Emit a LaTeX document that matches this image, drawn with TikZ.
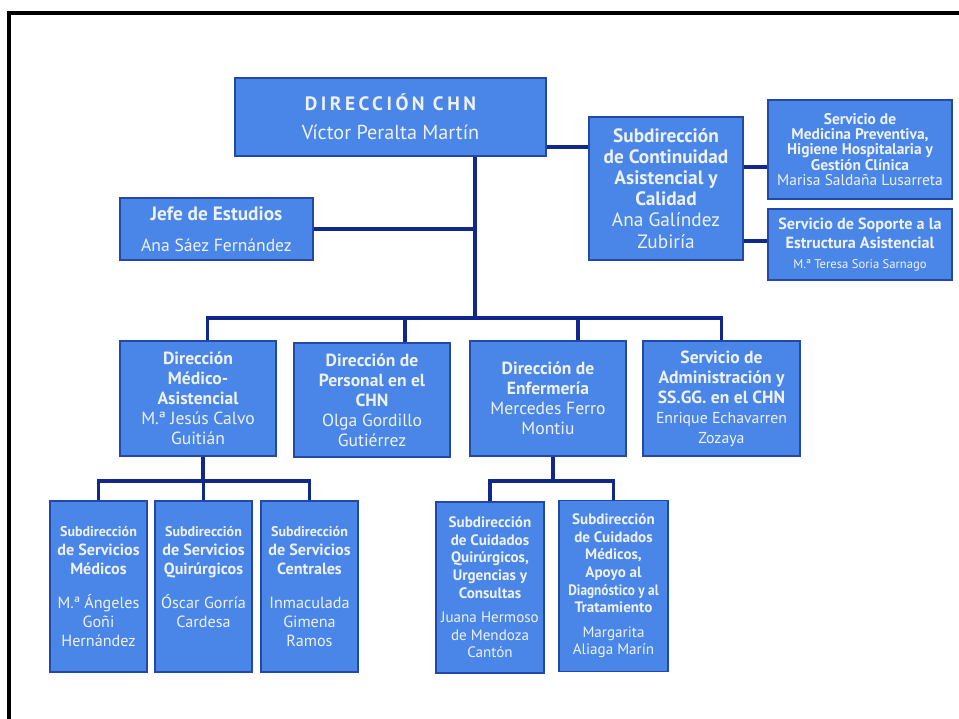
\documentclass[tikz,border=0pt]{standalone}
\usepackage{fontspec}
\setmainfont{PT Sans}
\usetikzlibrary{calc}
\definecolor{boxblue}{HTML}{4A86E8}
\definecolor{edgeblue}{HTML}{2348A8}
\definecolor{linknavy}{HTML}{10288C}
\definecolor{boxtext}{HTML}{EEF2F8}

\begin{document}
\begin{tikzpicture}[x=0.02cm,y=-0.02cm,
  unit/.style={rectangle,draw=edgeblue,fill=boxblue,line width=1.1pt,text=boxtext,align=center,inner sep=1pt,font=\bfseries\fontsize{10}{11.4}\selectfont},
  side/.style={unit,font=\bfseries\fontsize{8.8}{8.6}\selectfont},
  low/.style={unit,font=\bfseries\fontsize{9.2}{10.8}\selectfont,minimum width=1.94cm,minimum height=3.42cm},
  care/.style={unit,font=\bfseries\fontsize{8.6}{10}\selectfont,minimum height=3.42cm},
  link/.style={draw=linknavy,line width=2.2pt}
]
\useasboundingbox (0,0) rectangle (959,719);
\draw[line width=2pt] (9,730) -- (9,13) -- (970,13);

\node[unit,font=\bfseries\fontsize{11}{12.6}\selectfont,minimum width=6.22cm,minimum height=1.56cm] (dir) at (390.5,117) {{\addfontfeature{LetterSpace=18}DIRECCIÓN CHN}\\[4pt] \mdseries\fontsize{11.5}{12.6}\selectfont Víctor Peralta Martín};
\node[unit,font=\bfseries\fontsize{11}{12}\selectfont,minimum width=3.08cm,minimum height=2.86cm] (sub) at (666,188.5) {Subdirección\\ de Continuidad\\ Asistencial y\\ Calidad\\ \mdseries Ana Galíndez\\ \mdseries Zubiría};
\node[side,minimum width=3.68cm,minimum height=1.98cm] (prev) at (860,149.5) {Servicio de\\ Medicina Preventiva,\\ Higiene Hospitalaria y\\ Gestión Clínica\\ \mdseries Marisa Saldaña Lusarreta};
\node[side,font=\bfseries\fontsize{9.2}{11}\selectfont,minimum width=3.68cm,minimum height=1.42cm] (sop) at (860,244.5) {Servicio de Soporte a la\\ Estructura Asistencial\\ \mdseries\fontsize{7.2}{9}\selectfont M.ª Teresa Soria Sarnago};
\node[unit,minimum width=3.86cm,minimum height=1.24cm] (jefe) at (216.5,229) {{\fontsize{11}{11.4}\selectfont Jefe de Estudios}\\[6pt] \mdseries Ana Sáez Fernández};

\node[unit,minimum width=3.12cm,minimum height=2.30cm] (med) at (198,398.5) {Dirección\\ Médico-\\ Asistencial\\ \mdseries M.ª Jesús Calvo\\ \mdseries Guitián};
\node[unit,minimum width=3.12cm,minimum height=2.28cm] (pers) at (372,400) {Dirección de\\ Personal en el\\ CHN\\ \mdseries Olga Gordillo\\ \mdseries Gutiérrez};
\node[unit,minimum width=3.12cm,minimum height=2.30cm] (enf) at (548,398.5) {Dirección de\\ Enfermería\\ \mdseries Mercedes Ferro\\ \mdseries Montiu};
\node[unit,minimum width=3.14cm,minimum height=2.30cm] (adm) at (721.5,398.5) {Servicio de\\ Administración y\\ SS.GG. en el CHN\\ \mdseries\fontsize{9}{11.4}\selectfont Enrique Echavarren\\ \mdseries\fontsize{9}{11.4}\selectfont Zozaya};

\node[low] (smed) at (98.5,586.5) {{\fontsize{8}{10.8}\selectfont Subdirección}\\ de Servicios\\ Médicos\\[9pt] \mdseries M.ª Ángeles\\ \mdseries Goñi\\ \mdseries Hernández};
\node[low] (squi) at (203.5,586.5) {{\fontsize{8}{10.8}\selectfont Subdirección}\\ de Servicios\\ Quirúrgicos\\[9pt] \mdseries Óscar Gorría\\ \mdseries Cardesa\\ \mbox{}};
\node[low] (scen) at (309.5,586.5) {{\fontsize{8}{10.8}\selectfont Subdirección}\\ de Servicios\\ Centrales\\[9pt] \mdseries Inmaculada\\ \mdseries Gimena\\ \mdseries Ramos};
\node[care,minimum width=2.16cm] (scq) at (490,587.5) {Subdirección\\ de Cuidados\\ Quirúrgicos,\\ Urgencias y\\ Consultas\\[4pt] \mdseries Juana Hermoso\\ \mdseries de Mendoza\\ \mdseries Cantón};
\node[care,minimum width=2.18cm] (scm) at (613.5,586) {Subdirección\\ de Cuidados\\ Médicos,\\ Apoyo al\\ {\addfontfeature{FakeStretch=0.88}Diagnóstico y al}\\ Tratamiento\\[4pt] \mdseries Margarita\\ \mdseries Aliaga Marín};

\coordinate (split) at (475,318);
\coordinate (mtop) at ($(med.north west)!0.56!(med.north east)$);
\coordinate (ptop) at ($(pers.north west)!0.71!(pers.north east)$);
\coordinate (etop) at ($(enf.north west)!0.69!(enf.north east)$);
\coordinate (atop) at ($(adm.north west)!0.5!(adm.north east)$);
\draw[link] (dir.south -| split) -- (split);
\draw[link] (mtop) |- (split) -| (atop);
\draw[link] (ptop) -- (ptop |- split);
\draw[link] (etop) -- (etop |- split);
\draw[link] (jefe.east) -- (jefe.east -| split);

\coordinate (dout) at ($(dir.north east)!0.88!(dir.south east)$);
\draw[link] (dout) -- (dout -| sub.west);
\coordinate (pin) at ($(prev.north west)!0.67!(prev.south west)$);
\coordinate (sin) at ($(sop.north west)!0.45!(sop.south west)$);
\draw[link] (sub.east |- pin) -- (pin);
\draw[link] (sub.east |- sin) -- (sin);

\coordinate (mbot) at ($(med.south west)!0.53!(med.south east)$);
\draw[link] (mbot) -- ++(0,24) coordinate (mbus);
\draw[link] (smed.north) |- (mbus) -| (scen.north);
\draw[link] (squi.north) -- (squi.north |- mbus);

\coordinate (ebot) at ($(enf.south west)!0.53!(enf.south east)$);
\draw[link] (ebot) -- ++(0,24) coordinate (ebus);
\draw[link] (scq.north) |- (ebus) -| (scm.north);
\end{tikzpicture}
\end{document}
